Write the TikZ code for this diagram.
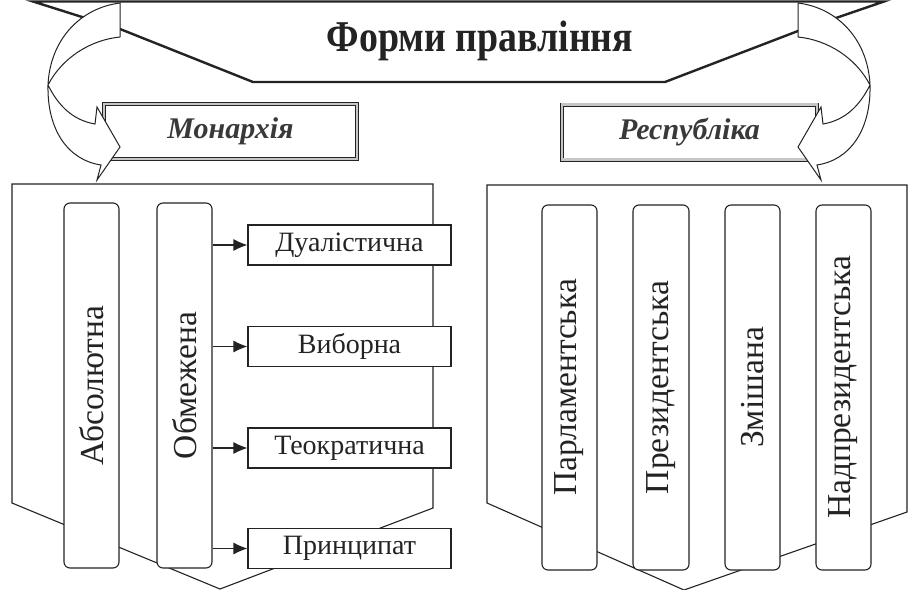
\documentclass[tikz,border=0pt]{standalone}
\usepackage{fontspec}
\setmainfont{Liberation Serif}
\newfontfamily\titlefont{Liberation Serif}[FakeStretch=0.86]
\usetikzlibrary{arrows.meta}
\definecolor{ink}{RGB}{35,35,35}
\begin{document}
\begin{tikzpicture}[x=1pt,y=-1pt,
  panel/.style={draw=ink,line width=1.1pt,fill=white,line join=miter},
  vbox/.style={draw=ink,line width=1.1pt,fill=white,rounded corners=6pt,inner sep=0pt,
    text=ink,font=\fontsize{33.5}{33.5}\selectfont},
  hbox/.style={draw=ink,line width=1.1pt,fill=white,inner sep=0pt,text=ink,
    font=\fontsize{28}{28}\selectfont,minimum width=203pt,minimum height=40pt},
  framebox/.style={draw=ink,line width=0.9pt,double=gray!45,double distance=2.2pt,fill=white,
    inner sep=0pt,text=ink!90,font=\fontsize{30}{30}\selectfont\bfseries\itshape},
  conn/.style={draw=ink,line width=1.1pt,-{Latex[length=14pt,width=12pt]}},
  banner/.style={draw=ink,line width=2.4pt,fill=white,line join=miter},
  bigarrow/.style={draw=ink,line width=1pt,fill=white,line join=miter}
]
\useasboundingbox (0,0) rectangle (909,589);
\fill[white] (0,0) rectangle (909,589);

% panels
\draw[panel] (12,184) -- (433,184) -- (433,508) -- (220,589) -- (12,503) -- cycle;
\draw[panel] (487,185) -- (907,185) -- (907,512) -- (684,590) -- (487,503) -- cycle;

% monarchy boxes
\node[vbox,minimum width=55pt,minimum height=365pt] (abs) at (91.5,385.5) {\rotatebox{90}{Абсолютна}};
\node[vbox,minimum width=55pt,minimum height=365pt] (omb) at (184.5,385.5) {\rotatebox{90}{Обмежена}};
\node[hbox] (dual) at (349.5,245) {Дуалістична};
\node[hbox] (vyb) at (349.5,346.5) {Виборна};
\node[hbox] (teo) at (349.5,448) {Теократична};
\node[hbox] (pryn) at (349.5,548.5) {Принципат};
\draw[conn] (omb.east |- dual.west) -- (dual.west);
\draw[conn] (omb.east |- vyb.west) -- (vyb.west);
\draw[conn] (omb.east |- teo.west) -- (teo.west);
\draw[conn] (omb.east |- pryn.west) -- (pryn.west);

% republic boxes
\node[vbox,minimum width=55pt,minimum height=365pt] (parl) at (569.5,387.5) {\rotatebox{90}{Парламентська}};
\node[vbox,minimum width=56pt,minimum height=365pt] (prez) at (661,387.5) {\rotatebox{90}{Президентська}};
\node[vbox,minimum width=55pt,minimum height=365pt] (zmi) at (752.5,387.5) {\rotatebox{90}{Змішана}};
\node[vbox,minimum width=55pt,minimum height=365pt] (nadp) at (843.5,387.5) {\rotatebox{90}{Надпрезидентська}};

% banner
\draw[banner] (33,1.5) -- (884,1.5) -- (798,31) -- (665,82) -- (253,82) -- (120,29) -- cycle;
\node[text=ink,font=\fontsize{44}{44}\titlefont\bfseries] (title) at (480,41) {Форми правління};

% second level frames
\node[framebox,minimum width=253pt,minimum height=55pt] (mon) at (230.5,131.5) {Монархія};
\node[framebox,minimum width=255pt,minimum height=55pt] (rep) at (689.5,132) {Республіка};

% curved arrows (left, then mirrored right)
\foreach \sh/\sc in {0/1,918/-1}{
\begin{scope}[xshift=\sh pt,xscale=\sc]
\fill[white] (120,3) .. controls (80,8) and (50,40) .. (48,85)
   .. controls (62,58) and (90,40) .. (120,37) -- cycle;
\fill[white] (48,85) .. controls (47,130) and (68,160) .. (101,165) -- (97,180) -- (120,147)
   -- (97,107) -- (95,124) .. controls (72,120) and (58,105) .. (48,85) -- cycle;
\draw[bigarrow,fill=none] (120,37) -- (120,3) .. controls (80,8) and (50,40) .. (48,85)
   .. controls (47,130) and (68,160) .. (101,165) -- (97,180) -- (120,147) -- (97,107) -- (95,124)
   .. controls (72,120) and (58,105) .. (48,85) .. controls (62,58) and (90,40) .. (120,37);
\end{scope}}
\end{tikzpicture}
\end{document}
